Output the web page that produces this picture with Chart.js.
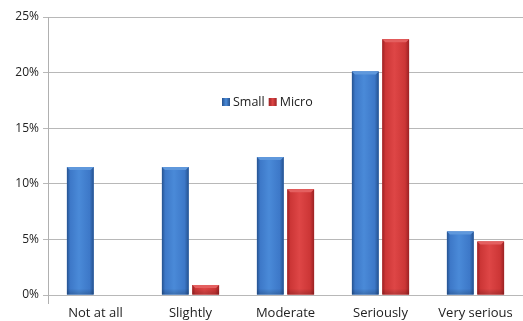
<!DOCTYPE html>
<html>
<head>
<meta charset="utf-8">
<script src="https://cdn.jsdelivr.net/npm/chart.js@4.4.1/dist/chart.umd.min.js"></script>
<style>
html,body{margin:0;padding:0;background:#fff;overflow:hidden;}
#wrap{position:relative;width:523px;height:321px;}
</style>
</head>
<body>
<div id="wrap"><canvas id="c" width="523" height="321"></canvas></div>
<script>
const categories = ["Not at all", "Slightly", "Moderate", "Seriously", "Very serious"];
const smallValues = [11.5, 11.5, 12.4, 20.1, 5.7];
const microValues = [0, 0.9, 9.5, 23.0, 4.8];
const seriesNames = ["Small", "Micro"];
const yTicks = [0, 5, 10, 15, 20, 25];

const FONT = "'Open Sans', sans-serif";
const palettes = [
  {base:'#3d78c8', edge:'#25528f', mid:'#4a8ad8', cap:'#5f98dc'},
  {base:'#cc3636', edge:'#9c2224', mid:'#de4646', cap:'#e46060'}
];

const bevelPlugin = {
  id: 'bevel',
  afterDatasetsDraw(chart) {
    const g = chart.ctx;
    chart.data.datasets.forEach((ds, di) => {
      const meta = chart.getDatasetMeta(di);
      const p = palettes[di];
      meta.data.forEach(el => {
        const {x, y, base, width} = el.getProps(['x','y','base','width'], true);
        const h = base - y;
        if (h < 0.5) return;
        const l = x - width/2, r = x + width/2;
        const grad = g.createLinearGradient(l, 0, r, 0);
        grad.addColorStop(0, p.edge);
        grad.addColorStop(0.12, p.base);
        grad.addColorStop(0.45, p.mid);
        grad.addColorStop(0.85, p.base);
        grad.addColorStop(1, p.edge);
        g.save();
        g.fillStyle = grad;
        g.fillRect(l, y, width, h);
        const cap = Math.min(3, h/2);
        g.beginPath();
        g.moveTo(l, y);
        g.lineTo(r, y);
        g.lineTo(r - 3, y + cap);
        g.lineTo(l + 3, y + cap);
        g.closePath();
        g.fillStyle = p.cap;
        g.fill();
        const bg = g.createLinearGradient(0, base - 6, 0, base);
        bg.addColorStop(0, 'rgba(0,0,0,0)');
        bg.addColorStop(1, 'rgba(0,0,0,0.18)');
        g.fillStyle = bg;
        g.fillRect(l, Math.max(y, base - 6), width, Math.min(6, h));
        g.restore();
      });
    });
  }
};

const legendPlugin = {
  id: 'midLegend',
  afterDraw(chart) {
    const g = chart.ctx;
    g.save();
    g.font = "12.5px " + FONT;
    g.textBaseline = 'middle';
    const items = seriesNames.map((n, i) => ({n, p: palettes[i]}));
    let x = 222;
    const cy = 102;
    items.forEach(it => {
      const grad = g.createLinearGradient(x, 0, x + 8, 0);
      grad.addColorStop(0, it.p.edge);
      grad.addColorStop(0.5, it.p.mid);
      grad.addColorStop(1, it.p.edge);
      g.fillStyle = grad;
      g.fillRect(x, cy - 4, 8, 8);
      g.fillStyle = '#222';
      g.fillText(it.n, x + 11, cy);
      x += 11 + g.measureText(it.n).width + 4;
    });
    g.restore();
  }
};

new Chart(document.getElementById('c'), {
  type: 'bar',
  data: {
    labels: categories,
    datasets: [
      {label: seriesNames[0], data: smallValues, backgroundColor: palettes[0].base, borderWidth: 0},
      {label: seriesNames[1], data: microValues, backgroundColor: palettes[1].base, borderWidth: 0}
    ]
  },
  options: {
    responsive: false,
    animation: false,
    devicePixelRatio: 1,
    layout: {padding: {top: 17, right: 0, bottom: 0, left: 0}},
    datasets: {bar: {categoryPercentage: 0.64, barPercentage: 0.88}},
    plugins: {legend: {display: false}, tooltip: {enabled: false}},
    scales: {
      x: {
        grid: {
          display: true,
          drawOnChartArea: false,
          tickLength: 9,
          color: (ctx) => ctx.index === 0 ? '#b0b0b0' : 'rgba(0,0,0,0)'
        },
        border: {display: false},
        ticks: {font: {family: FONT, size: 13}, color: '#222', padding: 1, maxRotation: 0},
        afterFit(s) { s.height = 26; }
      },
      y: {
        min: 0, max: 25,
        afterBuildTicks(s) { s.ticks = yTicks.map(v => ({value: v})); },
        grid: {color: '#b8b8b8', tickLength: 5, lineWidth: 1},
        border: {display: true, color: '#b0b0b0'},
        ticks: {
          font: {family: FONT, size: 12}, color: '#222', padding: 4,
          callback: v => v + '%'
        },
        afterFit(s) { s.width = 48; }
      }
    }
  },
  plugins: [bevelPlugin, legendPlugin]
});
</script>
</body>
</html>
